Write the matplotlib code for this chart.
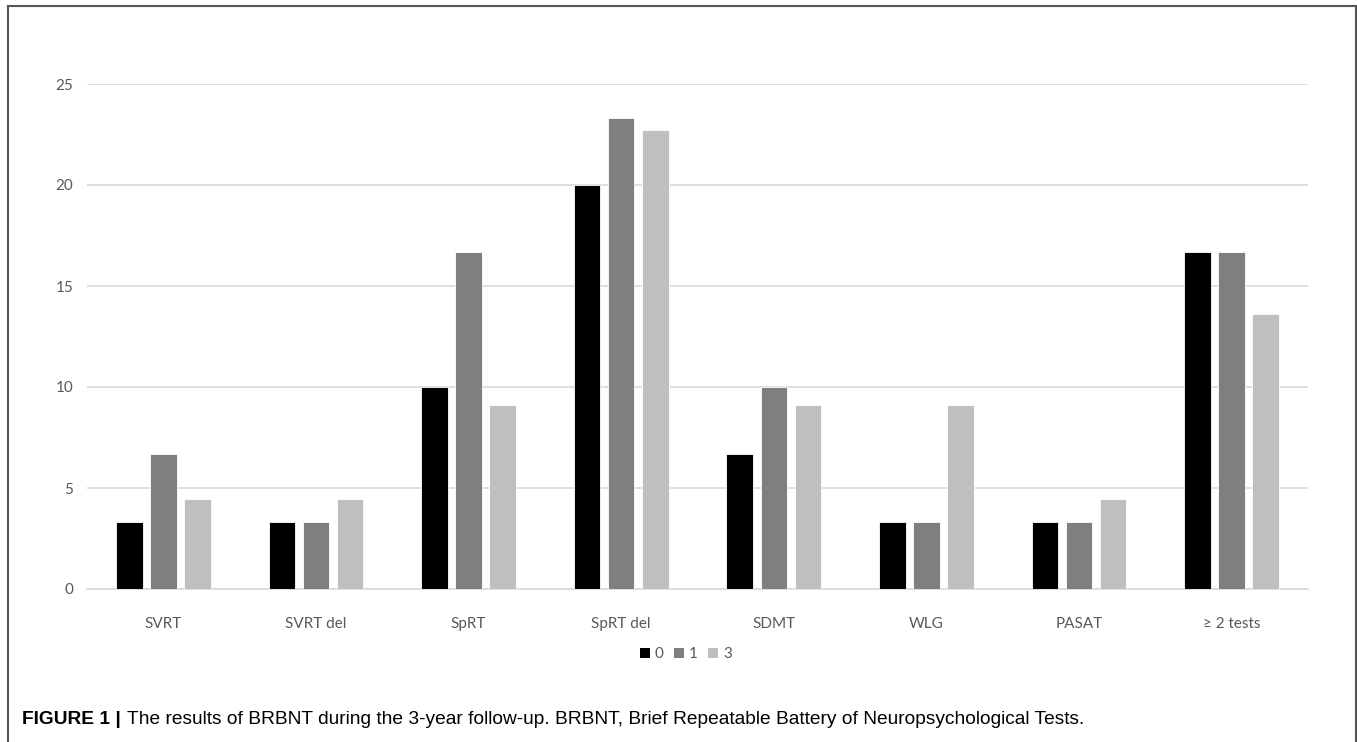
import matplotlib.pyplot as plt
import numpy as np
from matplotlib.lines import Line2D
from matplotlib.patches import Patch

# values (percent of patients)
tests = ['SVRT', 'SVRT del', 'SpRT', 'SpRT del', 'SDMT', 'WLG', 'PASAT', '\u2265 2 tests']
year0 = [3.33, 3.33, 10.0, 20.0, 6.67, 3.33, 3.33, 16.67]
year1 = [6.67, 3.33, 16.67, 23.3, 10.0, 3.33, 3.33, 16.67]
year3 = [4.44, 4.44, 9.09, 22.7, 9.09, 9.09, 4.44, 13.6]
years = ['0', '1', '3']
colors = ['#000000', '#7f7f7f', '#bfbfbf']

W, H = 1357, 742
fig = plt.figure(figsize=(W / 100, H / 100), dpi=100)
ax = fig.add_axes([87 / W, (H - 589) / H, 1221 / W, 505 / H])

x = np.arange(len(tests))
pitch = 0.223
width = 0.174
for i, (vals, col) in enumerate(zip([year0, year1, year3], colors)):
    ax.bar(x + (i - 1) * pitch, vals, width=width, color=col,
           edgecolor='white', linewidth=0.6, zorder=3)

ax.set_xlim(-0.5, len(tests) - 0.5)
ax.set_ylim(0, 25)
ax.set_yticks([0, 5, 10, 15, 20, 25])
ax.yaxis.grid(True, color='#d9d9d9', linewidth=1.2, zorder=0)
ax.set_axisbelow(True)
for side in ['top', 'right', 'left']:
    ax.spines[side].set_visible(False)
ax.spines['bottom'].set_color('#d9d9d9')
ax.spines['bottom'].set_linewidth(1.2)

ax.set_xticks(x)
ax.set_xticklabels(tests)
ax.tick_params(axis='both', length=0, labelsize=11, labelcolor='#595959')
ax.tick_params(axis='x', pad=20)
ax.tick_params(axis='y', pad=10)
for lab in ax.get_xticklabels() + ax.get_yticklabels():
    lab.set_family('Lato')

handles = [Patch(facecolor=c, edgecolor='none') for c in colors]
fig.legend(handles, years, loc='center', bbox_to_anchor=(686 / W, (H - 654) / H),
           ncol=3, frameon=False, handlelength=0.65, handleheight=0.65,
           handletextpad=0.3, columnspacing=0.7,
           prop={'family': 'Lato', 'size': 11}, labelcolor='#595959')

# outer frame of the figure panel
frame = dict(color='#555555', linewidth=1.5)
fig.add_artist(Line2D([8 / W, 1356 / W], [1 - 6 / H, 1 - 6 / H], **frame))
fig.add_artist(Line2D([8 / W, 8 / W], [0, 1 - 6 / H], **frame))
fig.add_artist(Line2D([1356 / W, 1356 / W], [0, 1 - 6 / H], **frame))

cap_y = (H - 719) / H
bold = fig.text(22 / W, cap_y, 'FIGURE 1 |', fontweight='bold', fontsize=13.8,
                family='Liberation Sans', va='center', ha='left')
fig.canvas.draw()
bb = bold.get_window_extent()
fig.text((bb.x1 + 6) / W, cap_y,
         'The results of BRBNT during the 3-year follow-up. BRBNT, Brief Repeatable '
         'Battery of Neuropsychological Tests.',
         fontsize=13.8, family='Liberation Sans', va='center', ha='left')

fig.savefig('out.png', dpi=100)
